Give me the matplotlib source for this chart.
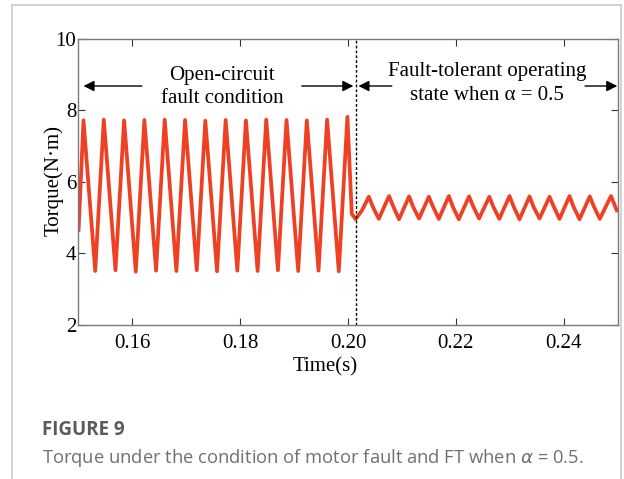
import matplotlib
matplotlib.use("Agg")
import matplotlib.pyplot as plt
from matplotlib.lines import Line2D
import numpy as np

# ---------------- data ----------------
start_t = [0.15000]
start_v = [4.60]

fault_peak_t = [0.15093, 0.15469, 0.15846, 0.16222, 0.16599, 0.16977, 0.17353,
                0.17730, 0.18106, 0.18483, 0.18859, 0.19236, 0.19612, 0.19989]
fault_peak_v = [7.72, 7.74, 7.72, 7.73, 7.74, 7.73, 7.71,
                7.73, 7.72, 7.74, 7.73, 7.72, 7.74, 7.82]
fault_trough_t = [0.15310, 0.15686, 0.16063, 0.16439, 0.16816, 0.17194, 0.17570,
                  0.17947, 0.18323, 0.18700, 0.19076, 0.19453, 0.19829]
fault_trough_v = [3.50, 3.52, 3.48, 3.51, 3.50, 3.52, 3.49,
                  3.51, 3.50, 3.52, 3.50, 3.51, 3.49]

transition_t = [0.20070, 0.20142, 0.20260]
transition_v = [5.10, 4.95, 5.20]

ft_peak_t = [0.20386, 0.20762, 0.21133, 0.21500, 0.21871, 0.22246, 0.22622,
             0.22997, 0.23368, 0.23739, 0.24110, 0.24486, 0.24879]
ft_peak_v = [5.58, 5.60, 5.59, 5.58, 5.60, 5.59, 5.58,
             5.60, 5.59, 5.58, 5.60, 5.59, 5.60]
ft_shoulder_t = [0.20460, 0.20836, 0.21207, 0.21574, 0.21945, 0.22320,
                 0.22696, 0.23071, 0.23442, 0.23813, 0.24184, 0.24560]
ft_shoulder_v = [5.30, 5.32, 5.30, 5.31, 5.30, 5.32,
                 5.30, 5.31, 5.30, 5.32, 5.30, 5.31]
ft_trough_t = [0.20571, 0.20947, 0.21318, 0.21685, 0.22056, 0.22431,
               0.22807, 0.23182, 0.23553, 0.23924, 0.24295, 0.24671]
ft_trough_v = [4.96, 4.95, 4.97, 4.96, 4.95, 4.97,
               4.96, 4.95, 4.97, 4.96, 4.95, 4.96]
end_t = [0.25000]
end_v = [5.15]

fault_switch_t = 0.2014

x_ticks = [0.16, 0.18, 0.20, 0.22, 0.24]
x_tick_labels = ["0.16", "0.18", "0.20", "0.22", "0.24"]
y_ticks = [2, 4, 6, 8, 10]
y_tick_labels = ["2", "4", "6", "8", "10"]

# ---------------- build series ----------------
t_all = np.array(start_t + fault_peak_t + fault_trough_t + transition_t +
                 ft_peak_t + ft_shoulder_t + ft_trough_t + end_t)
v_all = np.array(start_v + fault_peak_v + fault_trough_v + transition_v +
                 ft_peak_v + ft_shoulder_v + ft_trough_v + end_v)
order = np.argsort(t_all)
t_all, v_all = t_all[order], v_all[order]

serif = ["Liberation Serif", "DejaVu Serif"]
fs = 15

fig = plt.figure(figsize=(6.24, 4.79), dpi=100)
fig.patch.set_facecolor("white")

ax = fig.add_axes([0.1258, 0.3225, 0.8638, 0.5961])
ax.plot(t_all, v_all, color="#EE4124", lw=2.7, solid_joinstyle="round",
        solid_capstyle="butt")
ax.axvline(fault_switch_t, color="black", lw=1.0, linestyle=(0, (2, 1.5)))

ax.set_xlim(0.15, 0.25)
ax.set_ylim(2, 10)
ax.set_xticks(x_ticks)
ax.set_xticklabels(x_tick_labels, family=serif, fontsize=fs)
ax.set_yticks(y_ticks)
ax.set_yticklabels(y_tick_labels, family=serif, fontsize=fs)
ax.tick_params(axis="x", direction="in", length=5, top=True, pad=7, color="#333333")
ax.tick_params(axis="y", direction="in", length=5, right=True, pad=1.5, color="#333333")
for s in ax.spines.values():
    s.set_color("#7a7a7a")
    s.set_linewidth(1.0)

# annotations
def tx(xpix):
    return 0.15 + (xpix - 78.3) / 5392.0

def vy(ypix):
    return 2 + (324.5 - ypix) / 35.69

ax.text(tx(221.7), vy(75), "Open-circuit", ha="center", va="center",
        family=serif, fontsize=fs)
ax.text(tx(221.7), vy(98.3), "fault condition", ha="center", va="center",
        family=serif, fontsize=fs)
ax.text(tx(486.7), vy(71.7), "Fault-tolerant operating", ha="center", va="center",
        family=serif, fontsize=fs)
ax.text(tx(486.7), vy(95), "state when α = 0.5", ha="center", va="center",
        family=serif, fontsize=fs)

aprops = dict(arrowstyle="-|>", color="black", lw=1.0, mutation_scale=16,
              shrinkA=0, shrinkB=0)
ya = vy(86)
for tail, head in [(141.7, 83.3), (301.7, 353.3), (391.7, 358.3), (585, 617.3)]:
    ax.annotate("", xy=(tx(head), ya), xytext=(tx(tail), ya), arrowprops=aprops,
                annotation_clip=False)

# axis labels
fig.text(54 / 624, 1 - 180 / 479, "Torque(N·m)", rotation=90, ha="center",
         va="center", family=serif, fontsize=fs)
fig.text(325 / 624, 1 - 367 / 479, "Time(s)", ha="center", va="center",
         family=serif, fontsize=fs)

# caption
fig.text(42 / 624, 1 - 430 / 479, "FIGURE 9", ha="left", va="center",
         family=["Open Sans", "DejaVu Sans"], fontsize=13.5, weight="bold",
         color="#5a5a5a")
fig.text(42 / 624, 1 - 458 / 479,
         "Torque under the condition of motor fault and FT when $\\alpha$ = 0.5.",
         ha="left", va="center", family=["Open Sans", "DejaVu Sans"],
         fontsize=13.2, color="#707070")

# page frame
fc = "#cccccc"
fig.add_artist(Line2D([12 / 624, 12 / 624], [0, 1 - 5 / 479], transform=fig.transFigure, color=fc, lw=1.2))
fig.add_artist(Line2D([12 / 624, 621 / 624], [1 - 5 / 479, 1 - 5 / 479], transform=fig.transFigure, color=fc, lw=1.2))
fig.add_artist(Line2D([621 / 624, 621 / 624], [0, 1 - 5 / 479], transform=fig.transFigure, color=fc, lw=1.2))

fig.savefig("out.png", dpi=100)
